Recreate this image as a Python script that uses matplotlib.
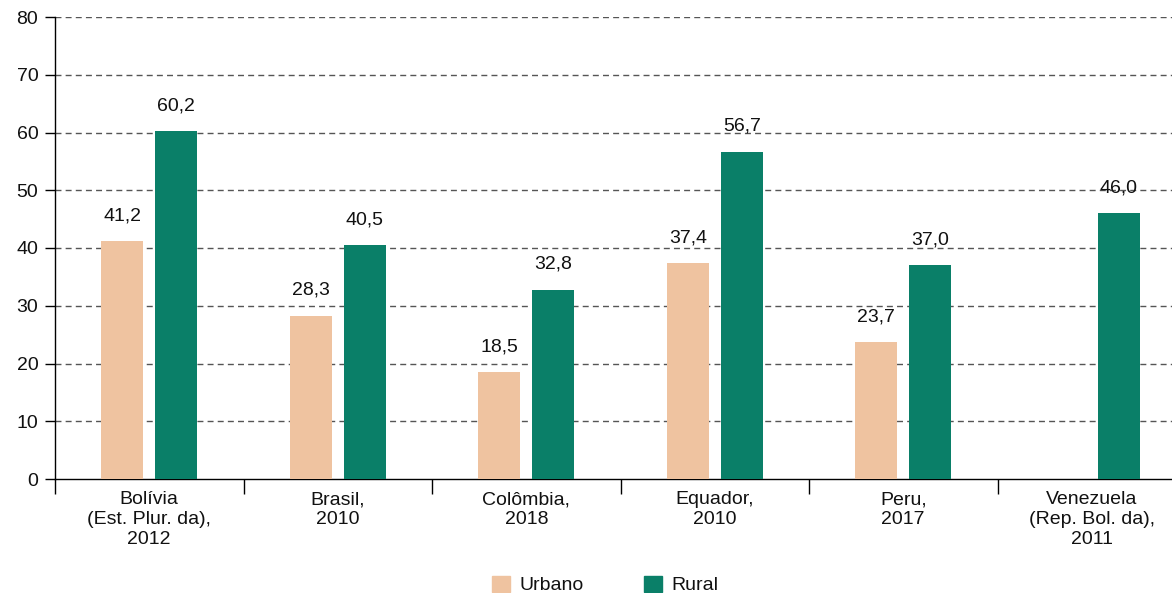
import matplotlib
matplotlib.use("Agg")
import matplotlib.pyplot as plt
import numpy as np
from matplotlib.patches import Patch

categories = ["Bolívia\n(Est. Plur. da),\n2012", "Brasil,\n2010", "Colômbia,\n2018",
              "Equador,\n2010", "Peru,\n2017", "Venezuela\n(Rep. Bol. da),\n2011"]
urbano = [41.2, 28.3, 18.5, 37.4, 23.7, None]
rural = [60.2, 40.5, 32.8, 56.7, 37.0, 46.0]
yticks = [0, 10, 20, 30, 40, 50, 60, 70, 80]

c_urb = "#EFC3A0"
c_rur = "#0A7F68"

plt.rcParams['font.family'] = ['Liberation Sans', 'DejaVu Sans']
FS = 14

fig = plt.figure(figsize=(11.72, 5.93), dpi=100)
ax = fig.add_axes([55/1172, 114/593, (1172-55)/1172, 462/593])

x = np.arange(len(categories))
w = 0.223
off = 0.143

def fmt(v):
    return f"{v:.1f}".replace(".", ",")

for i in range(len(categories)):
    if urbano[i] is not None:
        ax.bar(x[i] - off, urbano[i], width=w, color=c_urb, zorder=3)
        ax.annotate(fmt(urbano[i]), (x[i] - off, urbano[i]), xytext=(0, 12),
                    textcoords="offset points", ha="center", va="bottom", fontsize=FS,
                    color="#111111")
    ax.bar(x[i] + off, rural[i], width=w, color=c_rur, zorder=3)
    ax.annotate(fmt(rural[i]), (x[i] + off, rural[i]), xytext=(0, 12),
                textcoords="offset points", ha="center", va="bottom", fontsize=FS,
                color="#111111")

ax.set_ylim(0, 80)
ax.set_xlim(-0.5, -0.5 + (1172 - 55) / 188.5)
ax.set_yticks(yticks)
ax.tick_params(axis="y", labelsize=FS, length=7, width=1, direction="out", pad=5,
               labelcolor="#111111")
for yv in yticks[1:]:
    ax.axhline(yv, color="#555555", linestyle=(0, (4.3, 3)), linewidth=1, zorder=1)

ax.set_xticks(np.arange(len(categories)) - 0.5)
ax.set_xticklabels([])
ax.tick_params(axis="x", length=11, width=1, direction="out")
ax.set_xticks(x, minor=True)
ax.set_xticklabels(categories, minor=True, fontsize=FS, linespacing=1.2, color="#111111")
ax.tick_params(axis="x", which="minor", length=0, pad=9)

for s in ["top", "right"]:
    ax.spines[s].set_visible(False)
ax.spines["left"].set_linewidth(1)
ax.spines["bottom"].set_linewidth(1)

handles = [Patch(color=c_urb, label="Urbano"), Patch(color=c_rur, label="Rural")]
fig.legend(handles=handles, loc="lower center", bbox_to_anchor=(0.5166, -0.032), ncol=2,
           frameon=False, fontsize=FS, handlelength=0.92, handleheight=0.92,
           handletextpad=0.5, columnspacing=3.1, labelcolor="#111111")

fig.savefig("out.png", dpi=100)
